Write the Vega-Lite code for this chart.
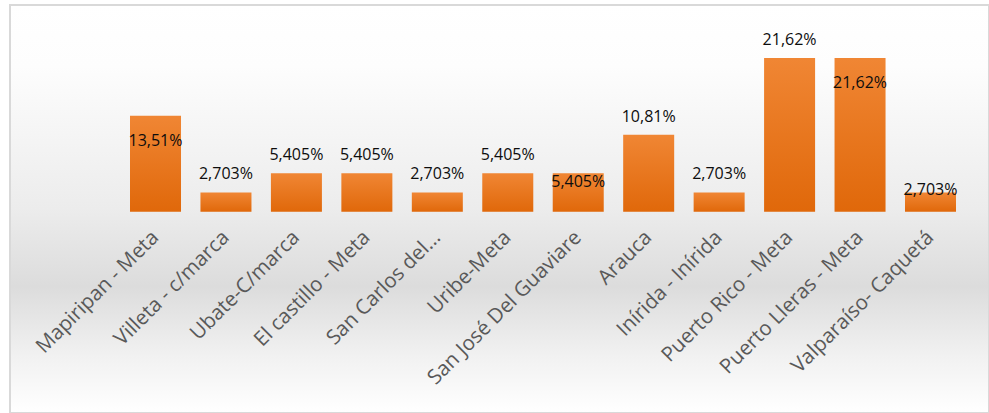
{
  "$schema": "https://vega.github.io/schema/vega-lite/v6.json",
  "width": 979,
  "height": 408,
  "autosize": {"type": "none"},
  "padding": {"left": 10, "top": 5, "right": 0, "bottom": 0},
  "background": "#ffffff",
  "view": {
    "fill": {"gradient": "linear", "x1": 0, "y1": 0, "x2": 0, "y2": 1,
      "stops": [
        {"offset": 0, "color": "#ffffff"},
        {"offset": 0.15, "color": "#fdfdfd"},
        {"offset": 0.5, "color": "#ececec"},
        {"offset": 0.69, "color": "#dcdcdc"},
        {"offset": 0.86, "color": "#f1f1f1"},
        {"offset": 1, "color": "#ffffff"}
      ]},
    "stroke": "#d9d9d9",
    "strokeWidth": 2
  },
  "config": {
    "locale": {"number": {"decimal": ",", "thousands": ".", "grouping": [3], "currency": ["", ""]}},
    "font": "Open Sans"
  },
  "data": {
    "values": [
      {"lugar": "Mapiripan - Meta", "valor": 0.1351},
      {"lugar": "Villeta - c/marca", "valor": 0.02703},
      {"lugar": "Ubate-C/marca", "valor": 0.05405},
      {"lugar": "El castillo - Meta", "valor": 0.05405},
      {"lugar": "San Carlos del...", "valor": 0.02703},
      {"lugar": "Uribe-Meta", "valor": 0.05405},
      {"lugar": "San José Del Guaviare", "valor": 0.05405},
      {"lugar": "Arauca", "valor": 0.1081},
      {"lugar": "Inírida - Inírida", "valor": 0.02703},
      {"lugar": "Puerto Rico - Meta", "valor": 0.2162},
      {"lugar": "Puerto Lleras - Meta", "valor": 0.2162},
      {"lugar": "Valparaíso- Caquetá", "valor": 0.02703}
    ]
  },
  "encoding": {
    "x": {
      "field": "lugar", "type": "nominal", "sort": null,
      "scale": {"range": [120, 946], "paddingInner": 0.276, "paddingOuter": 0},
      "axis": {
        "title": null, "domain": false, "ticks": false, "offset": -201,
        "labelAngle": -45, "labelAlign": "right", "labelBaseline": "middle",
        "labelPadding": 22, "labelFontSize": 20.5, "labelColor": "#595959",
        "labelFont": "Open Sans", "labelLimit": 400
      }
    },
    "y": {
      "field": "valor", "type": "quantitative",
      "scale": {"domain": [-0.2832, 0.2908], "nice": false, "zero": false},
      "axis": null
    }
  },
  "layer": [
    {
      "mark": {"type": "bar",
        "color": {"gradient": "linear", "x1": 0, "y1": 0, "x2": 0, "y2": 1,
          "stops": [{"offset": 0, "color": "#f08634"}, {"offset": 1, "color": "#e0680a"}]}},
      "encoding": {"y2": {"datum": 0}}
    },
    {
      "transform": [{"filter": "indexof(['Mapiripan - Meta','San José Del Guaviare','Puerto Lleras - Meta','Valparaíso- Caquetá'], datum.lugar) < 0"}],
      "mark": {"type": "text", "dy": -18, "fontSize": 16, "color": "#0d0d0d", "baseline": "middle"},
      "encoding": {"text": {"field": "valor", "type": "quantitative", "format": ".4p"}}
    },
    {
      "transform": [{"filter": "indexof(['Mapiripan - Meta','Puerto Lleras - Meta'], datum.lugar) >= 0"}],
      "mark": {"type": "text", "dy": 25, "fontSize": 16, "color": "#0d0d0d", "baseline": "middle"},
      "encoding": {"text": {"field": "valor", "type": "quantitative", "format": ".4p"}}
    },
    {
      "transform": [{"filter": "datum.lugar == 'San José Del Guaviare'"}],
      "mark": {"type": "text", "dy": 9, "fontSize": 16, "color": "#0d0d0d", "baseline": "middle"},
      "encoding": {"text": {"field": "valor", "type": "quantitative", "format": ".4p"}}
    },
    {
      "transform": [{"filter": "datum.lugar == 'Valparaíso- Caquetá'"}],
      "mark": {"type": "text", "dy": -2, "fontSize": 16, "color": "#0d0d0d", "baseline": "middle"},
      "encoding": {"text": {"field": "valor", "type": "quantitative", "format": ".4p"}}
    }
  ]
}
